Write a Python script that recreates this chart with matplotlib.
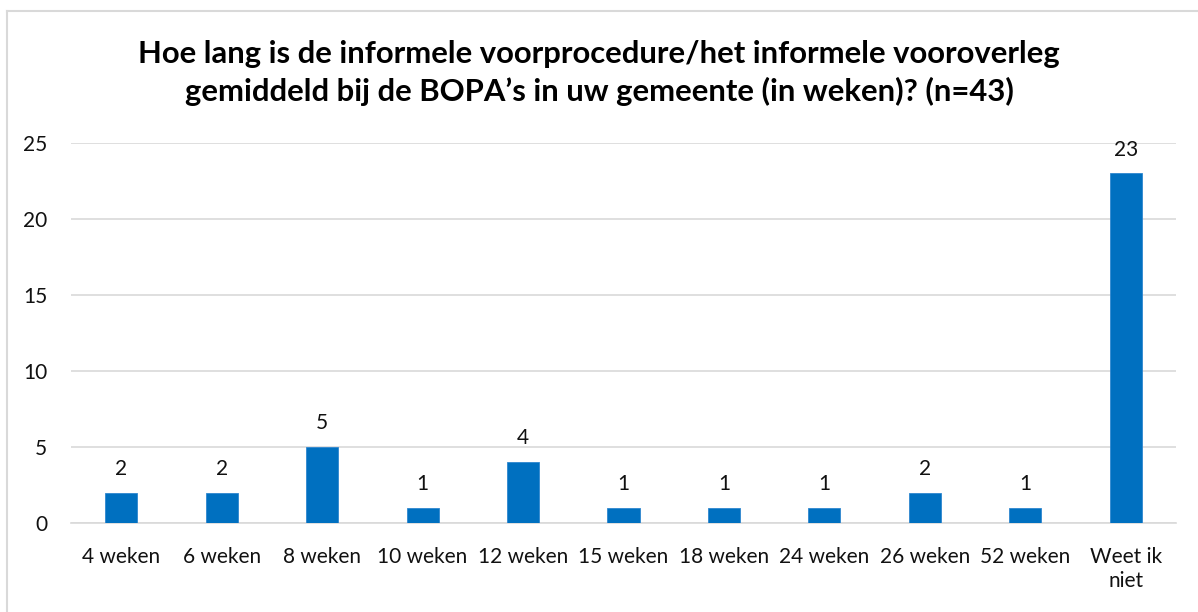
import matplotlib
matplotlib.use("Agg")
import matplotlib.pyplot as plt
from matplotlib.lines import Line2D

categories = ["4 weken", "6 weken", "8 weken", "10 weken", "12 weken", "15 weken",
              "18 weken", "24 weken", "26 weken", "52 weken", "Weet ik\nniet"]
values = [2, 2, 5, 1, 4, 1, 1, 1, 2, 1, 23]
yticks = [0, 5, 10, 15, 20, 25]
title = ("Hoe lang is de informele voorprocedure/het informele vooroverleg\n"
         "gemiddeld bij de BOPA\u2019s in uw gemeente (in weken)? (n=43)")

W, H = 1198, 612
plt.rcParams['font.family'] = ['Lato', 'DejaVu Sans']
fig = plt.figure(figsize=(W / 100, H / 100), dpi=100)
ax = fig.add_axes([71 / W, 1 - 523 / H, (1176 - 71) / W, (523 - 143) / H])

x = list(range(len(categories)))
ax.bar(x, values, width=0.32, color="#0070C0", edgecolor="#2E86CF", linewidth=0.6, zorder=3)
ax.set_xlim(-0.5, len(categories) - 0.5)
ax.set_ylim(0, 25)
ax.set_yticks(yticks)
ax.set_xticks(x)
ax.set_xticklabels(categories, fontsize=15, color="#111111", linespacing=1.3)
ax.tick_params(axis='y', labelsize=15, colors="#111111", length=0, pad=17)
ax.tick_params(axis='x', length=0, pad=17, colors="#111111")
ax.grid(axis='y', color="#D9D9D9", linewidth=1.2, zorder=0)
for s in ["top", "right", "left"]:
    ax.spines[s].set_visible(False)
ax.spines["bottom"].set_color("#D9D9D9")
ax.spines["bottom"].set_linewidth(1.2)

for xi, v in zip(x, values):
    ax.annotate(str(v), (xi, v), xytext=(0, 10), textcoords="offset points",
                ha="center", va="bottom", fontsize=15, color="#111111")

fig.text(0.5, 1 - 73 / H, title, ha="center", va="center", fontsize=22.3,
         fontweight="bold", color="#000000", linespacing=1.38)

fig.add_artist(Line2D([7 / W, 1], [1 - 10.5 / H, 1 - 10.5 / H], transform=fig.transFigure,
                      color="#D9D9D9", linewidth=1.5))
fig.add_artist(Line2D([7 / W, 7 / W], [0, 1 - 10.5 / H], transform=fig.transFigure,
                      color="#D9D9D9", linewidth=1.5))

fig.savefig("out.png", dpi=100, facecolor="white")
